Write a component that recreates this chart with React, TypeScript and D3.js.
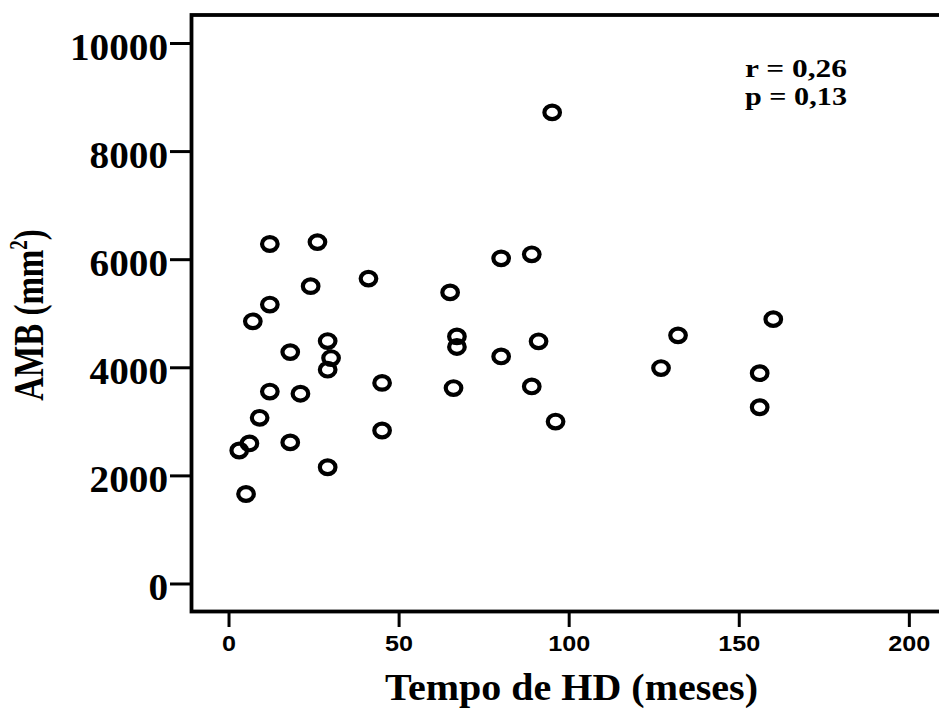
import React from "react";
import * as d3 from "d3";

const tempoHD = [12, 26, 41, 24, 12, 7, 29, 18, 30, 29, 45, 12, 21, 9, 6, 3, 18, 45, 29, 5,
  80, 89, 65, 67, 67, 80, 91, 66, 89, 96, 95, 132, 127, 160, 156, 156];
const amb = [6290, 6325, 5650, 5510, 5170, 4860, 4495, 4290, 4180, 3965, 3720, 3560, 3520, 3075, 2600, 2470, 2620, 2840, 2160, 1665,
  6025, 6100, 5395, 4580, 4385, 4210, 4490, 3625, 3655, 3005, 8725, 4600, 3995, 4900, 3900, 3270];
const xTicks = [0, 50, 100, 150, 200];
const yTicks = [0, 2000, 4000, 6000, 8000, 10000];
const xTitle = "Tempo de HD (meses)";
const statLines = ["r = 0,26", "p = 0,13"];

const W = 939;
const H = 711;
const L = 191.5, R = 942, T = 15, B = 611.5;

export default function App() {
  const x = d3.scaleLinear().domain([-11.03, 209.6]).range([L, R]);
  const y = d3.scaleLinear().domain([-509, 10527]).range([B, T]);
  const serif = "'Liberation Serif', 'Times New Roman', serif";
  const sans = "'Liberation Sans', Arial, sans-serif";
  return (
    <svg width={W} height={H} style={{ position: "absolute", left: 0, top: 0, background: "#fff" }}>
      <rect x={0} y={0} width={W} height={H} fill="#fff" />
      {/* y ticks */}
      {yTicks.map((t) => (
        <g key={"y" + t}>
          <line x1={170} x2={L} y1={y(t)} y2={y(t)} stroke="#000" strokeWidth={3} />
          <text
            x={168}
            y={y(t) + 16.5}
            textAnchor="end"
            fontFamily={serif}
            fontWeight="bold"
            fontSize={37}
            textLength={String(t).length * 19.6}
            lengthAdjust="spacingAndGlyphs"
            fill="#000"
          >
            {t}
          </text>
        </g>
      ))}
      {/* x ticks */}
      {xTicks.map((t) => (
        <g key={"x" + t}>
          <line x1={x(t)} x2={x(t)} y1={B} y2={627} stroke="#000" strokeWidth={3} />
          <text
            x={x(t)}
            y={650.5}
            textAnchor="middle"
            fontFamily={sans}
            fontWeight="bold"
            fontSize={22}
            textLength={String(t).length * 14}
            lengthAdjust="spacingAndGlyphs"
            fill="#000"
          >
            {t}
          </text>
        </g>
      ))}
      {/* frame */}
      <rect x={L} y={T} width={R - L} height={B - T} fill="none" stroke="#000" strokeWidth={3.8} />
      {/* points */}
      {tempoHD.map((v, i) => (
        <ellipse
          key={i}
          cx={x(v)}
          cy={y(amb[i])}
          rx={7.8}
          ry={6.8}
          fill="none"
          stroke="#000"
          strokeWidth={4.2}
        />
      ))}
      {/* stats */}
      {statLines.map((s, i) => (
        <text
          key={s}
          x={745}
          y={77 + i * 28}
          fontFamily={serif}
          fontWeight="bold"
          fontSize={25}
          textLength={102}
          lengthAdjust="spacingAndGlyphs"
          fill="#000"
        >
          {s}
        </text>
      ))}
      {/* x title */}
      <text
        x={385}
        y={700}
        fontFamily={serif}
        fontWeight="bold"
        fontSize={37}
        textLength={373}
        lengthAdjust="spacingAndGlyphs"
        fill="#000"
      >
        {xTitle}
      </text>
      {/* y title */}
      <text
        transform="translate(43,315) rotate(-90) scale(1,1.3)"
        textAnchor="middle"
        fontFamily={serif}
        fontWeight="bold"
        fontSize={33}
        fill="#000"
      >
        AMB (mm<tspan dy={-12} fontSize={19}>2</tspan>
        <tspan dy={12}>)</tspan>
      </text>
    </svg>
  );
}
